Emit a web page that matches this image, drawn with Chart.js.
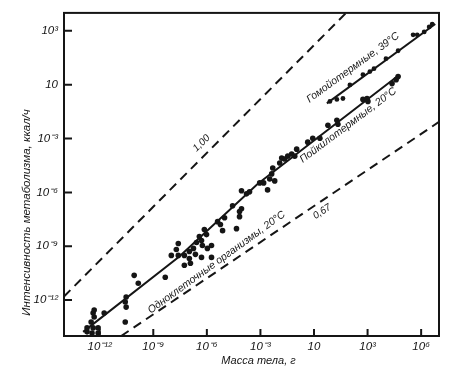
<!DOCTYPE html>
<html>
<head>
<meta charset="utf-8">
<script src="https://cdn.jsdelivr.net/npm/chart.js@4/dist/chart.umd.min.js"></script>
<style>
  html, body { margin: 0; padding: 0; background: #fff; }
  #wrap { width: 452px; height: 370px; }
</style>
</head>
<body>
<div id="wrap"><canvas id="chart"></canvas></div>
<script>
// all values are log10: body mass in g (x), metabolic rate in kcal/h (y)
const xTicks = [-12, -9, -6, -3, 0, 3, 6];
const xTickLabels = ['10⁻¹²', '10⁻⁹', '10⁻⁶', '10⁻³', '10', '10³', '10⁶'];
const yTicks = [-12, -9, -6, -3, 0, 3];
const yTickLabels = ['10⁻¹²', '10⁻⁹', '10⁻⁶', '10⁻³', '10', '10³'];

// unicellular + poikilothermic observations
const coldMass = [-12.71, -12.43, -12.09, -12.71, -12.37, -12.09, -12.48, -12.31, -12.37, -12.31,
  -11.75, -10.57, -10.52, -10.57, -10.52, -10.07, -9.84, -8.33, -7.99, -7.71,
  -7.60, -7.60, -7.26, -6.92, -7.26, -6.98, -6.98, -6.75, -6.64, -6.58,
  -6.42, -6.30, -6.25, -6.30, -6.14, -6.02, -5.97, -5.74, -5.74, -5.40,
  -5.24, -5.12, -5.01, -4.56, -4.34, -4.17, -4.17, -4.06, -4.06, -3.78,
  -3.61, -3.04, -2.82, -2.60, -2.48, -2.20, -2.37, -2.31, -1.92, -1.81,
  -1.64, -1.47, -1.25, -1.08, -0.97, -0.35, -0.07, 0.33, 1.28, 1.34,
  0.78, 2.74, 2.97, 3.02, 4.37, 4.60, 4.71];
const coldRate = [-13.77, -13.83, -13.83, -13.55, -13.55, -13.55, -13.22, -12.94, -12.72, -12.55,
  -12.72, -13.22, -12.39, -12.11, -11.83, -10.62, -11.06, -10.73, -9.51, -9.18,
  -8.85, -9.51, -10.06, -9.95, -9.51, -9.68, -9.29, -9.12, -9.45, -8.79,
  -8.46, -8.68, -8.96, -9.62, -8.07, -8.35, -9.12, -9.62, -8.96, -7.63,
  -7.79, -8.13, -7.41, -6.74, -8.02, -7.07, -7.35, -6.91, -5.91, -6.08,
  -5.97, -5.47, -5.47, -5.86, -5.25, -5.36, -4.97, -4.64, -4.36, -4.09,
  -4.14, -3.98, -3.86, -3.98, -3.59, -3.20, -2.98, -2.98, -1.98, -2.20,
  -2.26, -0.82, -0.77, -0.93, 0.06, 0.28, 0.45];

// homeothermic observations
const warmMass = [0.89, 1.28, 1.62, 2.01, 2.74, 3.13, 3.36, 4.03, 4.71, 5.55, 5.78, 6.17, 6.45, 6.62];
const warmRate = [-0.93, -0.82, -0.77, -0.01, 0.56, 0.73, 0.89, 1.45, 1.89, 2.78, 2.78, 2.94, 3.22, 3.38];

// fitted lines
const coldLineMass = [-12.93, -7.54, -3.16, 4.71];
const coldLineRate = [-13.77, -9.57, -5.53, 0.50];
const warmLineMass = [0.72, 6.79];
const warmLineRate = [-1.04, 3.38];
const slope100Mass = [-14, 1.8];
const slope100Rate = [-11.8, 4];
const slope067Mass = [-10.8, 7];
const slope067Rate = [-14, -2.07];

const pts = (xs, ys) => xs.map((v, i) => ({ x: v, y: ys[i] }));
const ink = '#151515';
const italic = (size) => ({ family: "'Liberation Sans', Arial, sans-serif", size: size, style: 'italic' });

// rotated captions, placed in data units
const captions = [
  { text: '1,00', x: -6.3, y: -3.26, angle: -45, size: 10 },
  { text: '0,67', x: 0.45, y: -7.07, angle: -33, size: 10 },
  { text: 'Гомойотермные, 39°C', x: 2.18, y: 0.95, angle: -36, size: 10.5 },
  { text: 'Пойкилотермные, 20°C', x: 1.91, y: -2.26, angle: -37, size: 10.5 },
  { text: 'Одноклеточные организмы, 20°C', x: -5.46, y: -9.9, angle: -36, size: 10.5 }
];

const decor = {
  id: 'decor',
  afterDraw(chart) {
    const { ctx, chartArea: a, scales: { x, y } } = chart;
    ctx.save();
    ctx.strokeStyle = ink;
    ctx.lineWidth = 2;
    ctx.strokeRect(a.left, a.top, a.right - a.left, a.bottom - a.top);

    // tick marks point into the plot
    ctx.beginPath();
    xTicks.forEach(v => {
      const px = x.getPixelForValue(v);
      ctx.moveTo(px, a.bottom);
      ctx.lineTo(px, a.bottom - 7);
    });
    yTicks.forEach(v => {
      const py = y.getPixelForValue(v);
      ctx.moveTo(a.left, py);
      ctx.lineTo(a.left + 8, py);
    });
    ctx.stroke();

    ctx.fillStyle = ink;
    ctx.textAlign = 'center';
    ctx.textBaseline = 'middle';
    captions.forEach(c => {
      ctx.save();
      ctx.translate(x.getPixelForValue(c.x), y.getPixelForValue(c.y));
      ctx.rotate(c.angle * Math.PI / 180);
      ctx.font = `italic ${c.size}px 'Liberation Sans', Arial, sans-serif`;
      ctx.fillText(c.text, 0, 0);
      ctx.restore();
    });

    // axis titles
    ctx.font = "italic 11px 'Liberation Sans', Arial, sans-serif";
    ctx.fillText('Масса тела, г', (a.left + a.right) / 2 + 7, a.bottom + 25);
    ctx.save();
    ctx.translate(a.left - 37, (a.top + a.bottom) / 2 + 38);
    ctx.rotate(-Math.PI / 2);
    ctx.font = "italic 11.5px 'Liberation Sans', Arial, sans-serif";
    ctx.fillText('Интенсивность метаболизма, ккал/ч', 0, 0);
    ctx.restore();
    ctx.restore();
  }
};

const lineSet = (xs, ys, dash) => ({
  type: 'line',
  data: pts(xs, ys),
  borderColor: ink,
  borderWidth: 2,
  borderDash: dash,
  pointRadius: 0,
  fill: false,
  tension: 0
});

new Chart(document.getElementById('chart'), {
  type: 'scatter',
  data: {
    datasets: [
      lineSet(slope100Mass, slope100Rate, [9, 6]),
      lineSet(slope067Mass, slope067Rate, [9, 6]),
      lineSet(coldLineMass, coldLineRate, []),
      lineSet(warmLineMass, warmLineRate, []),
      { data: pts(coldMass, coldRate), backgroundColor: ink, borderWidth: 0, pointRadius: 2.8 },
      { data: pts(warmMass, warmRate), backgroundColor: ink, borderWidth: 0, pointRadius: 2.4 }
    ]
  },
  options: {
    responsive: true,
    maintainAspectRatio: false,
    animation: false,
    layout: { padding: { top: 12, right: 13, left: 0, bottom: 0 } },
    plugins: { legend: { display: false }, tooltip: { enabled: false } },
    scales: {
      x: {
        type: 'linear', min: -14, max: 7,
        afterBuildTicks: s => { s.ticks = xTicks.map(v => ({ value: v })); },
        afterFit: s => { s.height = 34; },
        grid: { display: false, drawTicks: false },
        border: { display: false },
        ticks: {
          color: ink, font: italic(11.5), padding: 4, maxRotation: 0, autoSkip: false,
          callback: v => xTickLabels[xTicks.indexOf(v)]
        }
      },
      y: {
        type: 'linear', min: -14, max: 4,
        afterBuildTicks: s => { s.ticks = yTicks.map(v => ({ value: v })); },
        afterFit: s => { s.width = 64; },
        grid: { display: false, drawTicks: false },
        border: { display: false },
        ticks: {
          color: ink, font: italic(11.5), padding: 6, autoSkip: false,
          callback: v => yTickLabels[yTicks.indexOf(v)]
        }
      }
    }
  },
  plugins: [decor]
});
</script>
</body>
</html>
